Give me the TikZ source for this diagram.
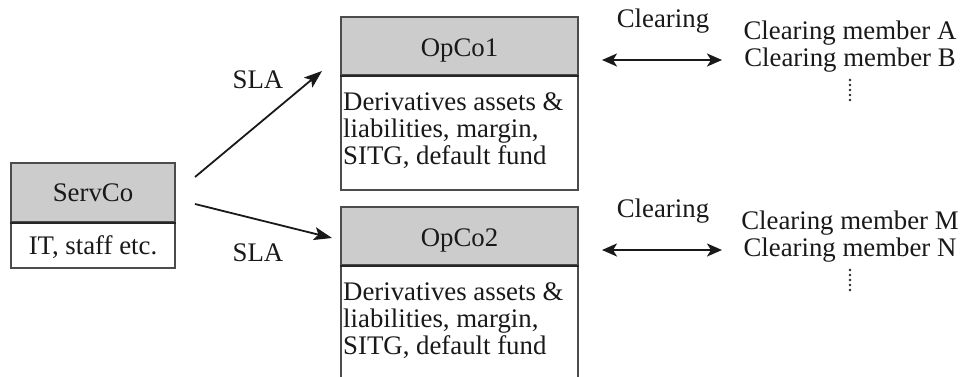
\documentclass[tikz,border=0pt]{standalone}
\usepackage{fontspec}
\setmainfont{Liberation Serif}
\usetikzlibrary{arrows.meta}
\begin{document}
\begin{tikzpicture}[x=1pt,y=-1pt,
  every node/.style={font=\fontsize{26.8}{27}\selectfont, text=black!90, inner sep=0pt},
  headbox/.style={draw=black!70, line width=1.3pt, fill=black!20, minimum width=#1},
  bodybox/.style={draw=black!70, line width=1.3pt, fill=white, minimum width=#1},
  divider/.style={draw=black!85, line width=1.8pt},
  sla/.style={draw=black!90, line width=1.8pt, -{Stealth[length=18pt,width=13pt,inset=4pt]}},
  clear/.style={draw=black!90, line width=2.4pt, {Stealth[length=15pt,width=13pt,inset=4pt]}-{Stealth[length=15pt,width=13pt,inset=4pt]}},
  memberdots/.style={line width=2.6pt, line cap=round, dash pattern=on 0pt off 5pt, draw=black!85}
]
\useasboundingbox (0,0) rectangle (961,376);

% ServCo
\node[headbox=164pt, minimum height=59pt] (servhead) at (93,192.5) {};
\node[bodybox=164pt, minimum height=46pt] (servbody) at (93,245) {};
\draw[divider] (servhead.south west) -- (servhead.south east);
\node[anchor=base] (servtitle) at (93,201) {ServCo};
\node[anchor=base] (servtext) at (93,254) {IT, staff etc.};

% OpCo1
\node[headbox=237pt, minimum height=58pt] (ophead1) at (459.5,46) {};
\node[bodybox=237pt, minimum height=115pt] (opbody1) at (459.5,132.5) {};
\draw[divider] (ophead1.south west) -- (ophead1.south east);
\node[anchor=base] (optitle1) at (459.5,56) {OpCo1};
\node[anchor=west, align=left] (optext1) at (343,131)
  {Derivatives assets \&\\liabilities, margin,\\SITG, default fund};

% OpCo2 (runs past the lower edge)
\node[headbox=237pt, minimum height=58pt] (ophead2) at (459.5,236) {};
\node[bodybox=237pt, minimum height=115pt] (opbody2) at (459.5,322.5) {};
\draw[divider] (ophead2.south west) -- (ophead2.south east);
\node[anchor=base] (optitle2) at (459.5,246) {OpCo2};
\node[anchor=west, align=left] (optext2) at (343,321)
  {Derivatives assets \&\\liabilities, margin,\\SITG, default fund};

% SLA connectors
\coordinate (slastart1) at (195,177);
\coordinate (slaend1) at (322,71);
\coordinate (slastart2) at (195,204);
\coordinate (slaend2) at (332,238);
\draw[sla] (slastart1) -- (slaend1);
\draw[sla] (slastart2) -- (slaend2);
\node[anchor=base] (slalabel1) at (258,88) {SLA};
\node[anchor=base] (slalabel2) at (258,261) {SLA};

% Clearing links
\coordinate (clrleft1) at (602,60);
\coordinate (clrright1) at (722,60);
\coordinate (clrleft2) at (602,250);
\coordinate (clrright2) at (722,250);
\draw[clear] (clrleft1) -- (clrright1);
\draw[clear] (clrleft2) -- (clrright2);
\node[anchor=base] (clrlabel1) at (663,27) {Clearing};
\node[anchor=base] (clrlabel2) at (663,217) {Clearing};

% Clearing members
\node[anchor=base] (memA) at (850,39) {Clearing member A};
\node[anchor=base] (memB) at (850,66) {Clearing member B};
\coordinate (dotsA) at (850,80);
\coordinate (dotsB) at (850,100);
\draw[memberdots] (dotsA) -- (dotsB);
\node[anchor=base] (memM) at (850,229) {Clearing member M};
\node[anchor=base] (memN) at (850,256) {Clearing member N};
\coordinate (dotsM) at (850,270);
\coordinate (dotsN) at (850,290);
\draw[memberdots] (dotsM) -- (dotsN);
\end{tikzpicture}
\end{document}
